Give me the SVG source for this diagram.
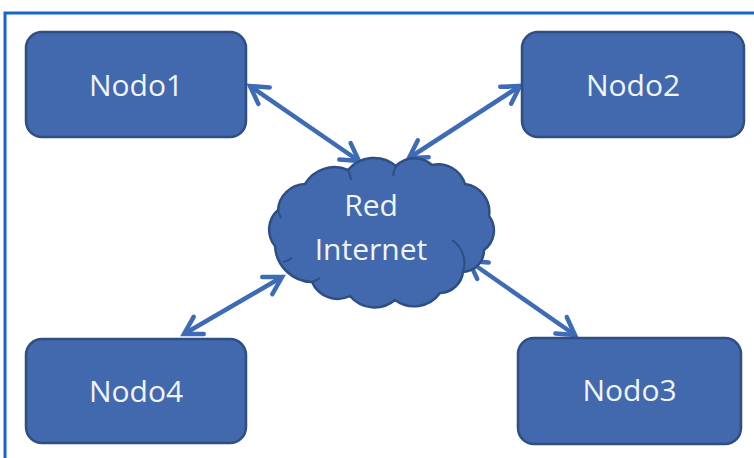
<svg xmlns="http://www.w3.org/2000/svg" width="754" height="458" viewBox="0 0 754 458">
  <defs>
    <style>
      .node rect { fill: #4269AE; stroke: #2E4E84; stroke-width: 2.5; }
      .cloud { fill: #4269AE; stroke: #2E4E84; stroke-width: 2.5; }
      .inner { fill: none; stroke: #2E4E84; stroke-width: 2; }
      .label { font-family: "Open Sans", "Liberation Sans", sans-serif; font-size: 30px; fill: #F1F4FA; text-anchor: middle; }
      .conn { stroke: #3D6BB5; stroke-width: 4.5; fill: none; marker-start: url(#arr); marker-end: url(#arr); }
      .frame { stroke: #1466CC; stroke-width: 3; fill: none; }
    </style>
    <marker id="arr" markerUnits="userSpaceOnUse" markerWidth="28" markerHeight="28" viewBox="-22 -14 28 28" refX="0" refY="0" orient="auto-start-reverse">
      <path d="M -17 -10 L 0 0 L -17 10" fill="none" stroke="#3D6BB5" stroke-width="4.5" stroke-linejoin="miter" stroke-linecap="round"/>
    </marker>
  </defs>
  <rect width="754" height="458" fill="#FFFFFF"/>
  <path class="frame" d="M 5 458 L 5 13 L 754 13"/>

  <g id="connectors">
    <line class="conn" x1="250" y1="86" x2="359" y2="161"/>
    <line class="conn" x1="409" y1="158" x2="520" y2="86"/>
    <line class="conn" x1="184" y1="334" x2="282" y2="277"/>
    <line class="conn" x1="469" y1="261" x2="575" y2="335"/>
  </g>

  <g id="cloud">
    <path class="cloud" d="M 275 246 A 26 26 0 0 1 278 210 A 28 28 0 0 1 305 184 A 34 34 0 0 1 348 170 A 34 34 0 0 1 396 166 A 26 26 0 0 1 432 165 A 28 28 0 0 1 465 184 A 28 28 0 0 1 489 216 A 24 24 0 0 1 484 250 A 22 22 0 0 1 463 272 A 24 24 0 0 1 440 293 A 32 32 0 0 1 395 300 A 32 32 0 0 1 350 296 A 28 28 0 0 1 312 282 A 38 38 0 0 1 275 246 Z"/>
    <path class="inner" d="M 348 170 A 30 30 0 0 1 351 180"/>
    <path class="inner" d="M 396 166 A 30 30 0 0 0 393 176"/>
    <path class="inner" d="M 463 272 A 28 28 0 0 0 452 240"/>
    <path class="inner" d="M 312 282 A 30 30 0 0 0 320 278"/>
    <path class="inner" d="M 278 210 A 30 30 0 0 0 281 218"/>
    <path class="inner" d="M 283 262 A 24 24 0 0 0 292 258"/>
    <text class="label" x="371" y="216">Red</text>
    <text class="label" x="371" y="260">Internet</text>
  </g>

  <g id="nodo1" class="node">
    <rect x="26" y="32" width="220" height="105" rx="16" ry="16"/>
    <text class="label" x="136" y="96">Nodo1</text>
  </g>
  <g id="nodo2" class="node">
    <rect x="522" y="32" width="222" height="105" rx="16" ry="16"/>
    <text class="label" x="633" y="96">Nodo2</text>
  </g>
  <g id="nodo3" class="node">
    <rect x="518" y="338" width="223" height="106" rx="16" ry="16"/>
    <text class="label" x="629.5" y="401">Nodo3</text>
  </g>
  <g id="nodo4" class="node">
    <rect x="26" y="339" width="220" height="104" rx="16" ry="16"/>
    <text class="label" x="136" y="402">Nodo4</text>
  </g>
</svg>
